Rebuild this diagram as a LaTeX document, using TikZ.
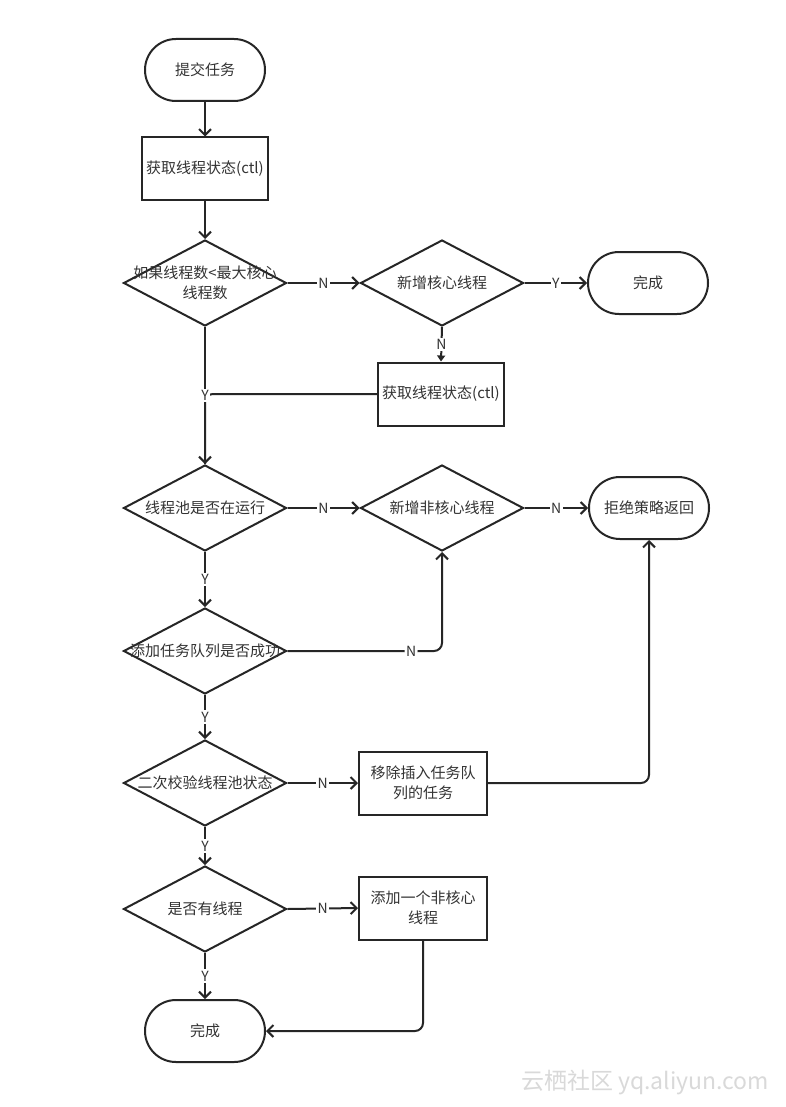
\documentclass[tikz,border=0pt]{standalone}
\usepackage{fontspec}
\newfontfamily\cjk{Noto Sans CJK SC}
\usetikzlibrary{shapes.geometric,shapes.misc,arrows.meta,calc}
\begin{document}
\begin{tikzpicture}[x=1pt,y=-1pt,
  box/.style={draw=black!85, line width=2pt, text=black!80, font=\cjk\fontsize{15}{20}\selectfont, align=center, inner sep=2pt},
  term/.style={box, rounded rectangle, minimum width=124pt, minimum height=62pt},
  proc/.style={box, rectangle, minimum width=126pt, minimum height=63pt},
  dec/.style={box, diamond, minimum width=163pt, minimum height=86pt, inner sep=0pt},
  dectext/.style={font=\cjk\fontsize{15}{20}\selectfont, text=black!80, align=center, inner sep=0pt},
  line/.style={draw=black!85, line width=2pt},
  conn/.style={line, -{Straight Barb[length=6pt,width=12pt]}},
  tri/.style={line, -{Triangle[length=6pt,width=8pt]}},
  lbl/.style={fill=white, inner sep=1.5pt, text=black!80, font=\cjk\fontsize{14}{14}\selectfont},
]
\path[use as bounding box, fill=white] (0,0) rectangle (785,1107);

% nodes
\node[term] (start) at (205,70) {提交任务};
\node[proc] (g1) at (205,169) {获取线程状态(ctl)};
\node[dec, label={[dectext]center:如果线程数<最大核心\\线程数}] (d1) at (205,283) {};
\node[dec, label={[dectext]center:新增核心线程}] (d2) at (442,283) {};
\node[term] (done1) at (648,283) {完成};
\node[proc] (g2) at (441,394) {获取线程状态(ctl)};
\node[dec, label={[dectext]center:线程池是否在运行}] (d3) at (205,508) {};
\node[dec, label={[dectext]center:新增非核心线程}] (d5) at (442,508) {};
\node[term] (rej) at (649,508) {拒绝策略返回};
\node[dec, label={[dectext]center:添加任务队列是否成功}] (d4) at (205,651) {};
\node[dec, label={[dectext]center:二次校验线程池状态}] (d6) at (205,783) {};
\node[proc, minimum width=128pt] (r1) at (423,783) {移除插入任务队\\列的任务};
\node[dec, label={[dectext]center:是否有线程}] (d7) at (205,909) {};
\node[proc, minimum width=128pt] (r2) at (423,908) {添加一个非核心\\线程};
\node[term] (done2) at (205,1031) {完成};

% connectors
\draw[conn] (start.south) -- (g1.north);
\draw[conn] (g1.south) -- (d1.north);
\draw[conn] (d1.east) -- node[lbl]{N} (d2.west);
\draw[conn] (d2.east) -- node[lbl]{Y} (done1.west);
\draw[tri] (d2.south) -- node[lbl]{N} (g2.north);
\draw[line, rounded corners=8pt] (g2.west) -| (d3.north);
\draw[conn] (d1.south) -- node[lbl]{Y} (d3.north);
\draw[conn] (d3.east) -- node[lbl]{N} (d5.west);
\draw[conn] (d5.east) -- node[lbl]{N} (rej.west);
\draw[conn] (d3.south) -- node[lbl]{Y} (d4.north);
\draw[conn, rounded corners=8pt] (d4.east) -- node[lbl, pos=0.8]{N} (d4.east -| d5.south) -- (d5.south);
\draw[conn] (d4.south) -- node[lbl]{Y} (d6.north);
\draw[conn] (d6.east) -- node[lbl]{N} (r1.west);
\draw[conn, rounded corners=8pt] (r1.east) -| (rej.south);
\draw[conn] (d6.south) -- node[lbl]{Y} (d7.north);
\draw[conn] (d7.east) -- node[lbl]{N} (r2.west);
\draw[conn] (d7.south) -- node[lbl]{Y} (done2.north);
\draw[conn, rounded corners=8pt] (r2.south) |- (done2.east);

% watermark
\node[font=\cjk\fontsize{23}{23}\selectfont, text=gray!30] (wm) at (645,1082) {云栖社区 yq.aliyun.com};
\end{tikzpicture}
\end{document}
